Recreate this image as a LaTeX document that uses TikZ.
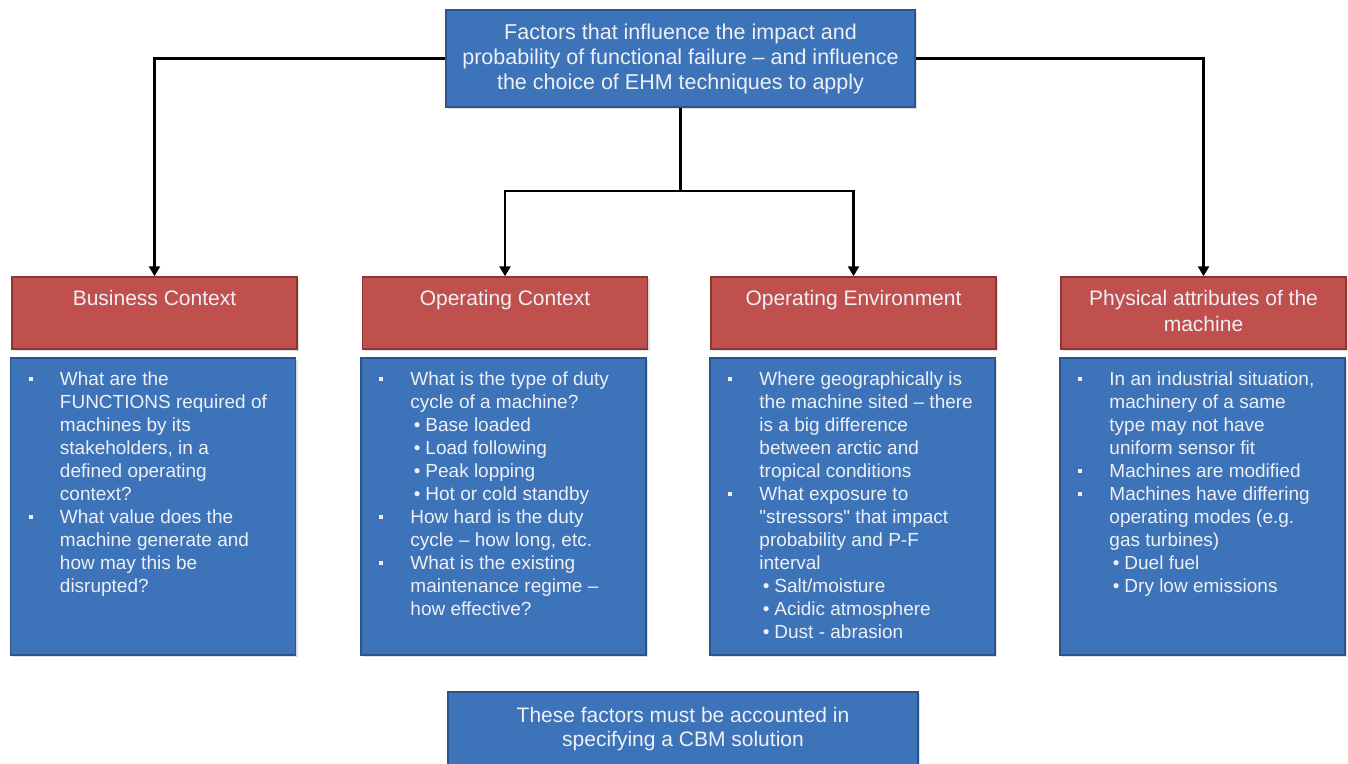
\documentclass[tikz,border=0pt]{standalone}
\usepackage{fontspec}
\setmainfont{Liberation Sans}
\usetikzlibrary{arrows.meta,shadows}

\definecolor{boxblue}{RGB}{60,115,185}
\definecolor{boxblueedge}{RGB}{44,84,138}
\definecolor{boxred}{RGB}{192,80,77}
\definecolor{boxrededge}{RGB}{138,54,51}
\definecolor{boxtext}{RGB}{238,240,245}

% first-level bullet (small square), hung to the left of the text
\newcommand\mainbul{\makebox[0pt][r]{\raisebox{4.5pt}{\rule{4pt}{4pt}}\hspace{27pt}}}
% second-level bullet, indented inside the text column
\newcommand\subbul{\hspace*{3.5pt}\makebox[11.5pt][l]{•}}

\tikzset{
  x=1pt, y=-1pt,
  bluebox/.style={draw=boxblueedge, fill=boxblue, line width=1.5pt,
    drop shadow={shadow xshift=2pt, shadow yshift=-2pt, opacity=0.25}},
  redbox/.style={draw=boxrededge, fill=boxred, line width=1.5pt,
    minimum width=285pt, minimum height=72pt,
    drop shadow={shadow xshift=2pt, shadow yshift=-2pt, opacity=0.25}},
  bodybox/.style={bluebox, minimum width=285pt, minimum height=297pt},
  headtext/.style={text=boxtext, font=\fontsize{21}{26}\selectfont,
    align=center, anchor=north, inner sep=0pt},
  bodytext/.style={text=boxtext, font=\fontsize{19}{23}\selectfont,
    align=left, anchor=north west, inner sep=0pt},
  wire/.style={draw=black, line width=2.5pt},
  conn/.style={wire, -{Triangle[length=10pt,width=11pt]}},
}

\begin{document}
\begin{tikzpicture}
\clip (0,0) rectangle (1348,763);
\fill[white] (0,0) rectangle (1348,763);

% title box
\node[bluebox, minimum width=469pt, minimum height=97pt, text=boxtext,
      font=\fontsize{21.5}{25}\selectfont, align=center] (top) at (680.5,58.5)
  {Factors that influence the impact and\\
   probability of functional failure – and influence\\
   the choice of EHM techniques to apply};

% category headers
\node[redbox] (r1) at (154.5,313) {};
\node[redbox] (r2) at (505,313) {};
\node[redbox] (r3) at (853.5,313) {};
\node[redbox] (r4) at (1203.5,313) {};
\node[headtext] (h1) at (154.5,290) {Business Context};
\node[headtext] (h2) at (505,290) {Operating Context};
\node[headtext] (h3) at (853.5,290) {Operating Environment};
\node[headtext] (h4) at (1203.5,290) {Physical attributes of the\\machine};

% detail boxes
\node[bodybox] (b1) at (153,506.5) {};
\node[bodybox] (b2) at (503.5,506.5) {};
\node[bodybox] (b3) at (852.5,506.5) {};
\node[bodybox] (b4) at (1202.5,506.5) {};

\node[bodytext] (t1) at ([shift={(50,14.5)}]b1.north west)
  {\mainbul What are the\\
   FUNCTIONS required of\\
   machines by its\\
   stakeholders, in a\\
   defined operating\\
   context?\\
   \mainbul What value does the\\
   machine generate and\\
   how may this be\\
   disrupted?};

\node[bodytext] (t2) at ([shift={(50,14.5)}]b2.north west)
  {\mainbul What is the type of duty\\
   cycle of a machine?\\
   \subbul Base loaded\\
   \subbul Load following\\
   \subbul Peak lopping\\
   \subbul Hot or cold standby\\
   \mainbul How hard is the duty\\
   cycle – how long, etc.\\
   \mainbul What is the existing\\
   maintenance regime –\\
   how effective?};

\node[bodytext] (t3) at ([shift={(50,14.5)}]b3.north west)
  {\mainbul Where geographically is\\
   the machine sited – there\\
   is a big difference\\
   between arctic and\\
   tropical conditions\\
   \mainbul What exposure to\\
   \textquotedbl stressors\textquotedbl{} that impact\\
   probability and P-F\\
   interval\\
   \subbul Salt/moisture\\
   \subbul Acidic atmosphere\\
   \subbul Dust - abrasion};

\node[bodytext] (t4) at ([shift={(50,14.5)}]b4.north west)
  {\mainbul In an industrial situation,\\
   machinery of a same\\
   type may not have\\
   uniform sensor fit\\
   \mainbul Machines are modified\\
   \mainbul Machines have differing\\
   operating modes (e.g.\\
   gas turbines)\\
   \subbul Duel fuel\\
   \subbul Dry low emissions};

% closing note
\node[bluebox, minimum width=470pt, minimum height=80pt] (note) at (683,732) {};
\node[text=boxtext, font=\fontsize{21}{24}\selectfont, align=center, inner sep=0pt]
  (notetext) at (683,729)
  {These factors must be accounted in\\specifying a CBM solution};

% connectors
\draw[conn] (top.west) -| (r1.north);
\draw[conn] (top.east) -| (r4.north);
\path (top.south) ++(0,83) coordinate (split);
\draw[wire] (top.south) -- (split);
\draw[conn] (split) -| (r2.north);
\draw[conn] (split) -| (r3.north);
\end{tikzpicture}
\end{document}
